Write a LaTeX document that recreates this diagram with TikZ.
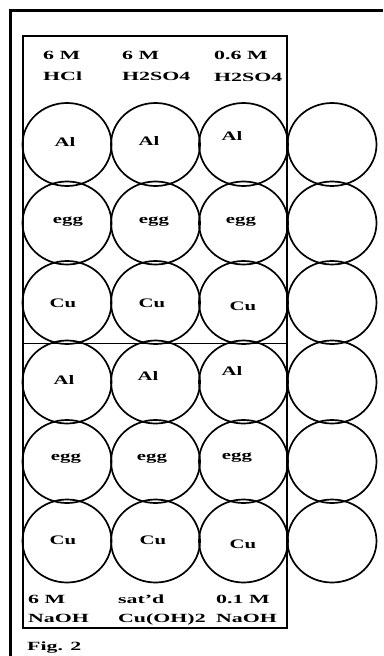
\documentclass[tikz,border=0pt]{standalone}
\usepackage{fontspec}
\usepackage{graphicx}
\setmainfont{Liberation Serif}
\usetikzlibrary{shapes.geometric}
\newcommand\hdr[1]{\scalebox{1.75}[1]{\fontsize{12.5}{14}\selectfont\bfseries #1}}
\newcommand\wl[1]{\scalebox{1.6}[1]{\fontsize{13}{14}\selectfont\bfseries #1}}
\begin{document}
\begin{tikzpicture}[x=1pt,y=-1pt,
  well/.style={draw,ellipse,line width=1.7pt,minimum width=89pt,minimum height=83pt,inner sep=0pt},
  wlab/.style={inner sep=0pt,anchor=center},
  hlab/.style={inner sep=0pt,anchor=base west}]
\useasboundingbox (0,0) rectangle (383,656);
\fill[white] (0,0) rectangle (383,656);
% outer frame
\draw[line width=3pt] (10.5,656) -- (10.5,10) -- (383,10);
% inner plate
\draw[line width=2.2pt] (23,36) rectangle (287,628);
\draw[line width=1pt] (23,343) -- (287,343);
% wells
\foreach \c/\x in {1/67,2/155.5,3/243.5,4/332}{
  \foreach \r/\y in {1/144.5,2/223,3/302.5,4/382,5/461.5,6/541}{
    \node[well] (w\r\c) at (\x,\y) {};
  }
}
% well labels
\node[wlab] (a11) at (65,142) {\wl{Al}};
\node[wlab] (a12) at (149,141) {\wl{Al}};
\node[wlab] (a13) at (232,136) {\wl{Al}};
\node[wlab] (e21) at (68,222) {\wl{egg}};
\node[wlab] (e22) at (154,222) {\wl{egg}};
\node[wlab] (e23) at (241,222) {\wl{egg}};
\node[wlab] (c31) at (63,303) {\wl{Cu}};
\node[wlab] (c32) at (152,303) {\wl{Cu}};
\node[wlab] (c33) at (243,306) {\wl{Cu}};
\node[wlab] (a41) at (64,380) {\wl{Al}};
\node[wlab] (a42) at (148,376) {\wl{Al}};
\node[wlab] (a43) at (232,371) {\wl{Al}};
\node[wlab] (e51) at (66,459) {\wl{egg}};
\node[wlab] (e52) at (152,459) {\wl{egg}};
\node[wlab] (e53) at (237,458) {\wl{egg}};
\node[wlab] (c61) at (63,540) {\wl{Cu}};
\node[wlab] (c62) at (153,540) {\wl{Cu}};
\node[wlab] (c63) at (243,544) {\wl{Cu}};
% header labels
\node[hlab] (h1a) at (43,59.5) {\hdr{6 M}};
\node[hlab] (h1b) at (43,80) {\hdr{HCl}};
\node[hlab] (h2a) at (122,59.5) {\hdr{6 M}};
\node[hlab] (h2b) at (122,80) {\hdr{H2SO4}};
\node[hlab] (h3a) at (214,59.5) {\hdr{0.6 M}};
\node[hlab] (h3b) at (214,81) {\hdr{H2SO4}};
% footer labels
\node[hlab] (f1a) at (28,603) {\hdr{6 M}};
\node[hlab] (f1b) at (28,622) {\hdr{NaOH}};
\node[hlab] (f2a) at (118,603) {\hdr{sat'd}};
\node[hlab] (f2b) at (118,622) {\hdr{Cu(OH)2}};
\node[hlab] (f3a) at (216,603) {\hdr{0.1 M}};
\node[hlab] (f3b) at (216,622) {\hdr{NaOH}};
\node[hlab] (fig) at (27,650) {\hdr{Fig. 2}};
\end{tikzpicture}
\end{document}
